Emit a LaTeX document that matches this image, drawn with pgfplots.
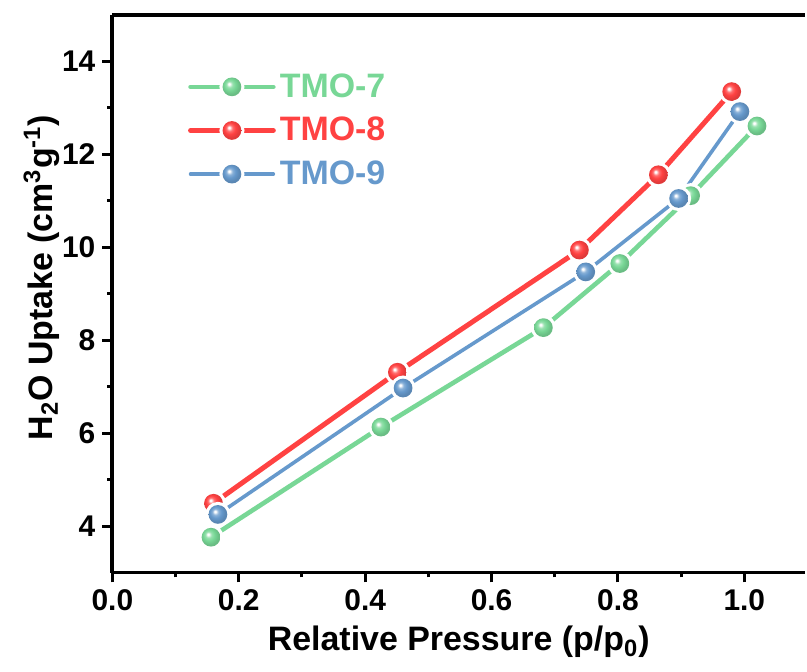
\documentclass[border=0pt]{standalone}
\usepackage{fontspec}
\setmainfont{Liberation Sans}
\usepackage{pgfplots}
\pgfplotsset{compat=1.18}

\definecolor{cG}{HTML}{78D796}
\definecolor{cR}{HTML}{FF4242}
\definecolor{cB}{HTML}{6699CC}

% shaded balls, lighter than the tikz default
\pgfdeclareradialshading{shG}{\pgfpoint{-8bp}{8bp}}{color(0bp)=(white); color(2bp)=(white); color(8bp)=(cG!75!white); color(15bp)=(cG); color(24bp)=(cG!88!black); color(50bp)=(cG!88!black)}
\pgfdeclareradialshading{shR}{\pgfpoint{-8bp}{8bp}}{color(0bp)=(white); color(2bp)=(white); color(8bp)=(cR!75!white); color(15bp)=(cR); color(24bp)=(cR!88!black); color(50bp)=(cR!88!black)}
\pgfdeclareradialshading{shB}{\pgfpoint{-8bp}{8bp}}{color(0bp)=(white); color(2bp)=(white); color(8bp)=(cB!75!white); color(15bp)=(cB); color(24bp)=(cB!88!black); color(50bp)=(cB!88!black)}

% white disc behind each ball gives the gap in the line
\pgfdeclareplotmark{ballG}{%
  \pgfmathsetlengthmacro\rr{\pgfplotmarksize+1.6pt}%
  \pgfpathcircle{\pgfpointorigin}{\rr}\pgfsetfillcolor{white}\pgfusepath{fill}%
  \pgfpathcircle{\pgfpointorigin}{\pgfplotmarksize}\pgfshadepath{shG}{0}\pgfusepath{}}
\pgfdeclareplotmark{ballR}{%
  \pgfmathsetlengthmacro\rr{\pgfplotmarksize+1.6pt}%
  \pgfpathcircle{\pgfpointorigin}{\rr}\pgfsetfillcolor{white}\pgfusepath{fill}%
  \pgfpathcircle{\pgfpointorigin}{\pgfplotmarksize}\pgfshadepath{shR}{0}\pgfusepath{}}
\pgfdeclareplotmark{ballB}{%
  \pgfmathsetlengthmacro\rr{\pgfplotmarksize+1.6pt}%
  \pgfpathcircle{\pgfpointorigin}{\rr}\pgfsetfillcolor{white}\pgfusepath{fill}%
  \pgfpathcircle{\pgfpointorigin}{\pgfplotmarksize}\pgfshadepath{shB}{0}\pgfusepath{}}

\begin{document}
\begin{tikzpicture}
\begin{axis}[
    scale only axis,
    width=347.2pt, height=279.5pt,
    xmin=0, xmax=1.096,
    ymin=3, ymax=15,
    axis x line*=box, axis y line*=left,
    xtick={0,0.2,0.4,0.6,0.8,1.0},
    ytick={4,6,8,10,12,14},
    minor x tick num=1, minor y tick num=1,
    xtick pos=bottom, ytick pos=left,
    tick align=outside,
    major tick length=5pt, minor tick length=2.5pt,
    every tick/.style={black, line width=1.5pt},
    axis line style={line width=2pt},
    xticklabel style={/pgf/number format/fixed, /pgf/number format/fixed zerofill, /pgf/number format/precision=1},
    /pgf/number format/assume math mode=true,
    tick label style={font=\fontsize{15}{18}\selectfont\bfseries},
    label style={font=\fontsize{17}{20}\selectfont\bfseries},
    xlabel={Relative Pressure (p/p\textsubscript{0})},
    ylabel={H\textsubscript{2}O Uptake (cm\textsuperscript{3}g\textsuperscript{-1})},
    xlabel style={at={(axis description cs:0.5,-0.125)}, anchor=center},
    ylabel style={at={(axis description cs:-0.102,0.529)}, anchor=center},
    legend style={draw=none, fill=none, at={(axis description cs:0.10,0.91)}, anchor=north west,
        font=\fontsize{17}{20}\selectfont\bfseries, row sep=4.5pt},
    legend cell align=left,
    legend image code/.code={\draw[mark repeat=2,mark phase=2,#1] plot coordinates {(0pt,0pt)(20.75pt,0pt)(41.5pt,0pt)};},
]

\addplot[cG, line width=2.3pt, line cap=round, mark=ballG, mark size=4.7pt]
coordinates {
    (0.156, 3.76)
    (0.425, 6.13)
    (0.682, 8.27)
    (0.803, 9.65)
    (0.915, 11.11)
    (1.020, 12.61)
};
\addlegendentry{\textcolor{cG}{TMO-7}}

\addplot[cR, line width=2.5pt, line cap=round, mark=ballR, mark size=4.7pt]
coordinates {
    (0.160, 4.49)
    (0.451, 7.31)
    (0.739, 9.94)
    (0.864, 11.56)
    (0.980, 13.35)
};
\addlegendentry{\textcolor{cR}{TMO-8}}

\addplot[cB, line width=1.8pt, line cap=round, mark=ballB, mark size=4.7pt]
coordinates {
    (0.167, 4.25)
    (0.460, 6.97)
    (0.749, 9.47)
    (0.896, 11.05)
    (0.993, 12.92)
};
\addlegendentry{\textcolor{cB}{TMO-9}}

\end{axis}
\path ([xshift=-56.35pt,yshift=7.5pt]current axis.north west) ([yshift=-49.5pt]current axis.south east);
\end{tikzpicture}
\end{document}
